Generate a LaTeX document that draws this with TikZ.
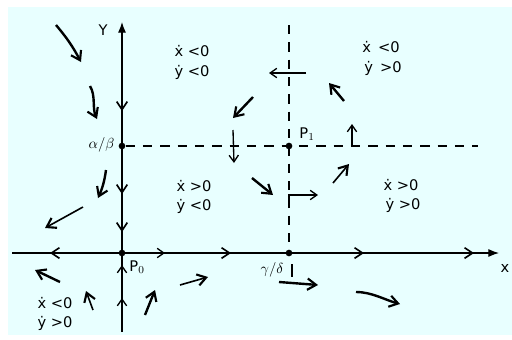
\documentclass[tikz,border=0pt]{standalone}
\usepackage{fontspec}
\newfontfamily\hand{DejaVu Sans}
\usetikzlibrary{arrows.meta}
\definecolor{bgc}{RGB}{232,255,255}
\begin{document}
\begin{tikzpicture}[x=0.75pt,y=-0.75pt,
  axis/.style={line width=0.8pt},
  axisend/.style={axis,-{Latex[length=8pt,width=6pt]}},
  seg/.style={line width=2pt,-{Straight Barb[length=6pt,width=8pt,line width=1.2pt]}},
  flow/.style={line width=1.8pt,-{Straight Barb[length=6.5pt,width=8.5pt,line width=1.6pt]}},
  thinflow/.style={line width=1pt,-{Straight Barb[length=5pt,width=7pt,line width=1pt]}},
  dashln/.style={line width=0.8pt,dash pattern=on 7pt off 6pt},
  pt/.style={circle,fill=black,inner sep=0pt,minimum size=5pt},
  lbl/.style={font=\fontsize{11}{13}\selectfont,inner sep=1pt},
  reg/.style={font=\hand\fontsize{11}{13}\selectfont,inner sep=1pt}]
\useasboundingbox (0,0) rectangle (512,340);
\fill[white] (0,0) rectangle (512,340);
\fill[bgc] (8,7) rectangle (512,335);
% points
\node[pt] (P0) at (122,253) {};
\node[pt] (AB) at (122,146) {};
\node[pt] (P1) at (289,146) {};
\node[pt] (GD) at (289,253) {};
% axis ends
\coordinate (ytop) at (122,22);
\coordinate (ybot) at (122,332);
\coordinate (xleft) at (12,253);
\coordinate (xright) at (499,253);
\coordinate (vtop) at (289,25);
\coordinate (hright) at (478,146);
\draw[axisend] (ybot) -- (ytop);
\draw[axisend] (xleft) -- (xright);
\draw[dashln] (AB) -- (hright);
\draw[dashln] (vtop) -- (GD);
% labels
\node[reg] (Ylab) at (103,30) {Y};
\node[reg] (Xlab) at (505,268) {x};
\node[lbl,anchor=east] (ABlab) at (116,145) {$\alpha/\beta$};
\node[reg] (P1lab) at (307,134) {P$_1$};
\node[reg] (P0lab) at (137,267) {P$_0$};
\node[lbl] (GDlab) at (272,270) {$\gamma/\delta$};
\coordinate (tk1) at (292,264);
\coordinate (tk2) at (292,277);
\draw[line width=0.8pt] (tk1) -- (tk2);
% region texts
\node[reg] (r1a) at (192,51) {ẋ <0};
\node[reg] (r1b) at (192,72) {ẏ <0};
\node[reg] (r2a) at (381,47) {ẋ \,<0};
\node[reg] (r2b) at (383,68) {ẏ \,>0};
\node[reg] (r3a) at (194,186) {ẋ >0};
\node[reg] (r3b) at (194,206) {ẏ <0};
\node[reg] (r4a) at (401,185) {ẋ >0};
\node[reg] (r4b) at (403,205) {ẏ >0};
\node[reg] (r5a) at (55,303) {ẋ <0};
\node[reg] (r5b) at (55,323) {ẏ >0};
% Y-axis flow segments
\coordinate (ya1) at (122,58);  \coordinate (ya2) at (122,111);
\coordinate (yb1) at (122,152); \coordinate (yb2) at (122,194);
\coordinate (yc1) at (122,214); \coordinate (yc2) at (122,232);
\coordinate (yd1) at (122,282); \coordinate (yd2) at (122,265);
\coordinate (ye1) at (122,312); \coordinate (ye2) at (122,298);
\draw[seg] (ya1) -- (ya2);
\draw[seg] (yb1) -- (yb2);
\draw[seg] (yc1) -- (yc2);
\draw[thinflow] (yd1) -- (yd2);
\draw[thinflow] (ye1) -- (ye2);
% X-axis flow segments
\coordinate (xa1) at (82,253);  \coordinate (xa2) at (50,253);
\coordinate (xb1) at (126,253); \coordinate (xb2) at (165,253);
\coordinate (xc1) at (193,253); \coordinate (xc2) at (231,253);
\coordinate (xd1) at (303,253); \coordinate (xd2) at (364,253);
\coordinate (xe1) at (393,253); \coordinate (xe2) at (474,253);
\draw[seg] (xa1) -- (xa2);
\draw[thinflow,dash pattern=on 2pt off 1pt] (xb1) -- (xb2);
\draw[seg] (xc1) -- (xc2);
\draw[seg] (xd1) -- (xd2);
\draw[seg] (xe1) -- (xe2);
% free flow arrows
\coordinate (a1) at (56,25);  \coordinate (a2) at (81,62);
\draw[flow] (a1) to[bend left=6] (a2);
\coordinate (b1) at (90,86);  \coordinate (b2) at (97,119);
\draw[flow] (b1) .. controls (96,96) and (92,108) .. (b2);
\coordinate (c1) at (253,97);  \coordinate (c2) at (233,118);
\draw[flow] (c1) -- (c2);
\coordinate (d1) at (233,130);  \coordinate (d2) at (234,163);
\draw[thinflow] (d1) -- (d2);
\coordinate (e1) at (306,73);  \coordinate (e2) at (269,73);
\draw[thinflow] (e1) -- (e2);
\coordinate (f1) at (344,101);  \coordinate (f2) at (329,83);
\draw[flow] (f1) -- (f2);
\coordinate (g1) at (352,146);  \coordinate (g2) at (352,124);
\draw[thinflow] (g1) -- (g2);
\coordinate (h1) at (252,178);  \coordinate (h2) at (273,195);
\draw[flow] (h1) -- (h2);
\coordinate (i0) at (289,208);  \coordinate (i1) at (289,195);  \coordinate (i2) at (318,195);
\draw[thinflow] (i0) -- (i1) -- (i2);
\coordinate (j1) at (333,183);  \coordinate (j2) at (349,164);
\draw[flow,line width=1.2pt] (j1) -- (j2);
\coordinate (k1) at (106,170);  \coordinate (k2) at (98,198);
\draw[flow] (k1) to[bend left=8] (k2);
\coordinate (l1) at (83,207);  \coordinate (l2) at (45,228);
\draw[flow,line width=1.2pt] (l1) -- (l2);
\coordinate (m1) at (60,282);  \coordinate (m2) at (35,270);
\draw[flow] (m1) -- (m2);
\coordinate (n1) at (93,310);  \coordinate (n2) at (86,291);
\draw[flow,line width=1.2pt] (n1) -- (n2);
\coordinate (o1) at (145,315);  \coordinate (o2) at (155,290);
\draw[flow] (o1) -- (o2);
\coordinate (p1) at (180,285);  \coordinate (p2) at (208,277);
\draw[flow,line width=1.2pt] (p1) -- (p2);
\coordinate (q1) at (279,282);  \coordinate (q2) at (318,285);
\draw[flow] (q1) -- (q2);
\coordinate (r1) at (356,292);  \coordinate (r2) at (400,304);
\draw[flow] (r1) .. controls (372,292) and (385,300) .. (r2);
\end{tikzpicture}
\end{document}
